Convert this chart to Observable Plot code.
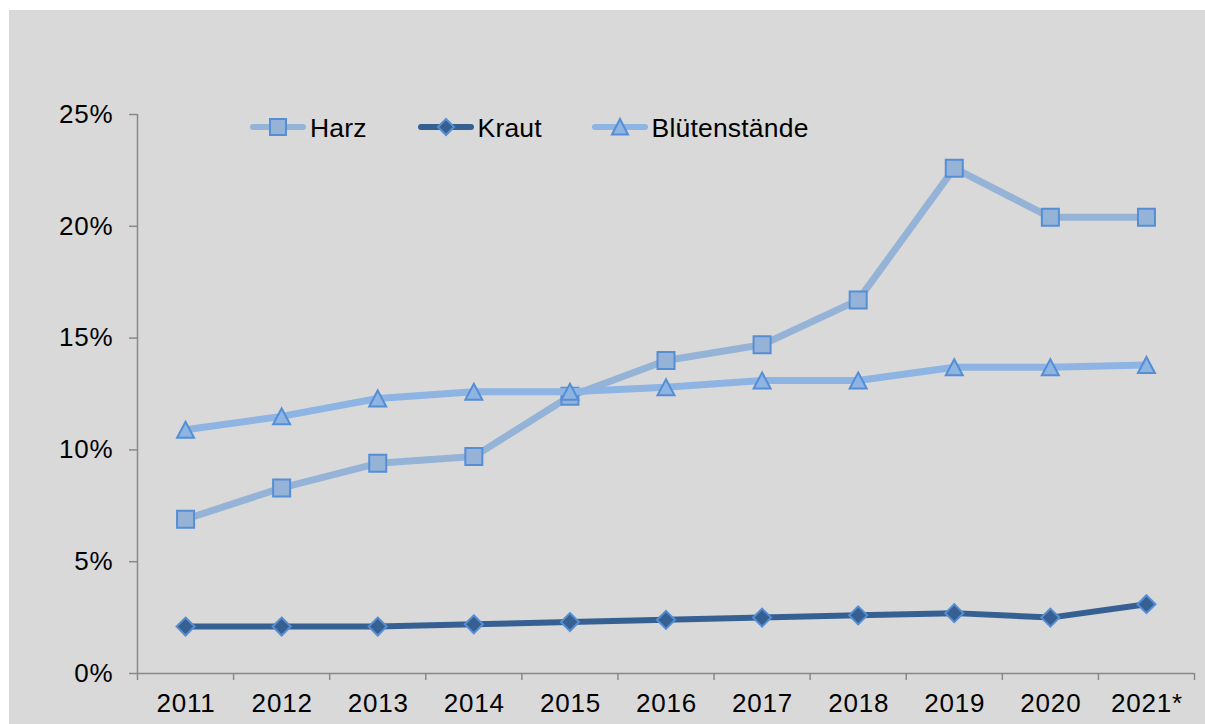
<!DOCTYPE html>
<html><head><meta charset="utf-8">
<script src="https://cdn.jsdelivr.net/npm/d3@7"></script>
<script src="https://cdn.jsdelivr.net/npm/@observablehq/plot@0.6"></script>
<style>
html,body{margin:0;padding:0;background:#fff;}
#wrap{position:absolute;left:9px;top:10px;width:1196px;height:714px;background:#d9d9d9;font-family:"Liberation Sans",Arial,sans-serif;overflow:hidden;}
#chart{position:absolute;left:0;top:0;}
#legend{position:absolute;left:0;top:102px;width:1196px;height:30px;font-size:26.5px;color:#000;}
.item{position:absolute;top:0;display:flex;align-items:center;height:30px;white-space:nowrap;}
.item span{margin-left:4px;position:relative;top:1px;letter-spacing:0.2px;}
</style></head><body>
<div id="wrap"><div id="chart"></div><div id="legend"></div></div>
<script>
const years = ["2011","2012","2013","2014","2015","2016","2017","2018","2019","2020","2021*"];
const harz = [6.9, 8.3, 9.4, 9.7, 12.4, 14.0, 14.7, 16.7, 22.6, 20.4, 20.4];
const kraut = [2.1, 2.1, 2.1, 2.2, 2.3, 2.4, 2.5, 2.6, 2.7, 2.5, 3.1];
const blueten = [10.9, 11.5, 12.3, 12.6, 12.6, 12.8, 13.1, 13.1, 13.7, 13.7, 13.8];
const yTicks = [0, 5, 10, 15, 20, 25];
const seriesNames = ["Harz", "Kraut", "Blütenstände"];

const colors = {
  harzLine: "#95b3d7", harzFill: "#95b3d7", harzStroke: "#558ed5",
  krautLine: "#376092", krautFill: "#376092", krautStroke: "#558ed5",
  bluetenLine: "#8db4e2", bluetenFill: "#8db4e2", bluetenStroke: "#558ed5"
};

const squareSym = {draw(ctx) {const h = 8.5; ctx.moveTo(-h,-h); ctx.lineTo(h,-h); ctx.lineTo(h,h); ctx.lineTo(-h,h); ctx.closePath();}};
const diamondSym = {draw(ctx) {const h = 9; ctx.moveTo(0,-h); ctx.lineTo(h,0); ctx.lineTo(0,h); ctx.lineTo(-h,0); ctx.closePath();}};
const triSym = {draw(ctx) {const w = 8.5, h = 8; ctx.moveTo(0,-h); ctx.lineTo(w,h); ctx.lineTo(-w,h); ctx.closePath();}};

const toRows = vals => vals.map((v, i) => ({i, v}));
const H = toRows(harz), K = toRows(kraut), B = toRows(blueten);
const gray = "#898989";

const chart = Plot.plot({
  width: 1196, height: 714,
  marginLeft: 128, marginRight: 11, marginTop: 104, marginBottom: 51,
  style: {background: "transparent", fontFamily: "'Liberation Sans', Arial, sans-serif", fontSize: "26px", letterSpacing: "0.8px", color: "#000", overflow: "visible"},
  x: {type: "linear", domain: [-0.5, years.length - 0.5], label: null},
  y: {domain: [0, 25], label: null},
  marks: [
    Plot.ruleX([-0.5], {stroke: gray, strokeWidth: 1.5}),
    Plot.ruleY([0], {stroke: gray, strokeWidth: 1.5}),
    Plot.axisY({ticks: yTicks, tickFormat: d => d + "%", tickSize: 8, tickPadding: 16, stroke: gray, strokeWidth: 1.5, fill: "#000", label: null}),
    Plot.axisX({ticks: d3.range(-0.5, years.length, 1), tickSize: 7, tickFormat: () => "", stroke: gray, strokeWidth: 1.5, label: null}),
    Plot.axisX({ticks: d3.range(0, years.length), tickSize: 0, tickPadding: 20.5, dx: 0.5, tickFormat: i => years[i], fill: "#000", label: null}),
    Plot.line(H, {x: "i", y: "v", stroke: colors.harzLine, strokeWidth: 7, strokeLinejoin: "round", strokeLinecap: "round"}),
    Plot.dot(H, {x: "i", y: "v", symbol: () => squareSym, r: 5, fill: colors.harzFill, stroke: colors.harzStroke, strokeWidth: 2}),
    Plot.line(K, {x: "i", y: "v", stroke: colors.krautLine, strokeWidth: 6, strokeLinejoin: "round", strokeLinecap: "round"}),
    Plot.dot(K, {x: "i", y: "v", symbol: () => diamondSym, r: 5, fill: colors.krautFill, stroke: colors.krautStroke, strokeWidth: 2}),
    Plot.line(B, {x: "i", y: "v", stroke: colors.bluetenLine, strokeWidth: 7, strokeLinejoin: "round", strokeLinecap: "round"}),
    Plot.dot(B, {x: "i", y: "v", symbol: () => triSym, r: 5, fill: colors.bluetenFill, stroke: colors.bluetenStroke, strokeWidth: 2})
  ]
});
document.getElementById("chart").appendChild(chart);

// Legend
const legendSpecs = [
  {name: seriesNames[0], line: colors.harzLine, fill: colors.harzFill, stroke: colors.harzStroke, shape: "square", left: 241},
  {name: seriesNames[1], line: colors.krautLine, fill: colors.krautFill, stroke: colors.krautStroke, shape: "diamond", left: 408.5},
  {name: seriesNames[2], line: colors.bluetenLine, fill: colors.bluetenFill, stroke: colors.bluetenStroke, shape: "triangle", left: 582.5}
];
const legend = d3.select("#legend");
legendSpecs.forEach(s => {
  const it = legend.append("div").attr("class", "item").style("left", s.left + "px");
  const svg = it.append("svg").attr("width", 56).attr("height", 30).style("overflow", "visible");
  svg.append("line").attr("x1", 3).attr("x2", 53).attr("y1", 15).attr("y2", 15)
    .attr("stroke", s.line).attr("stroke-width", 6).attr("stroke-linecap", "round");
  let d;
  if (s.shape === "square") d = "M20,7H36V23H20Z";
  else if (s.shape === "diamond") d = "M28,7L36,15L28,23L20,15Z";
  else d = "M28,7L36,22.5L20,22.5Z";
  svg.append("path").attr("d", d).attr("fill", s.fill).attr("stroke", s.stroke).attr("stroke-width", 2);
  it.append("span").text(s.name);
});
</script>
</body></html>
